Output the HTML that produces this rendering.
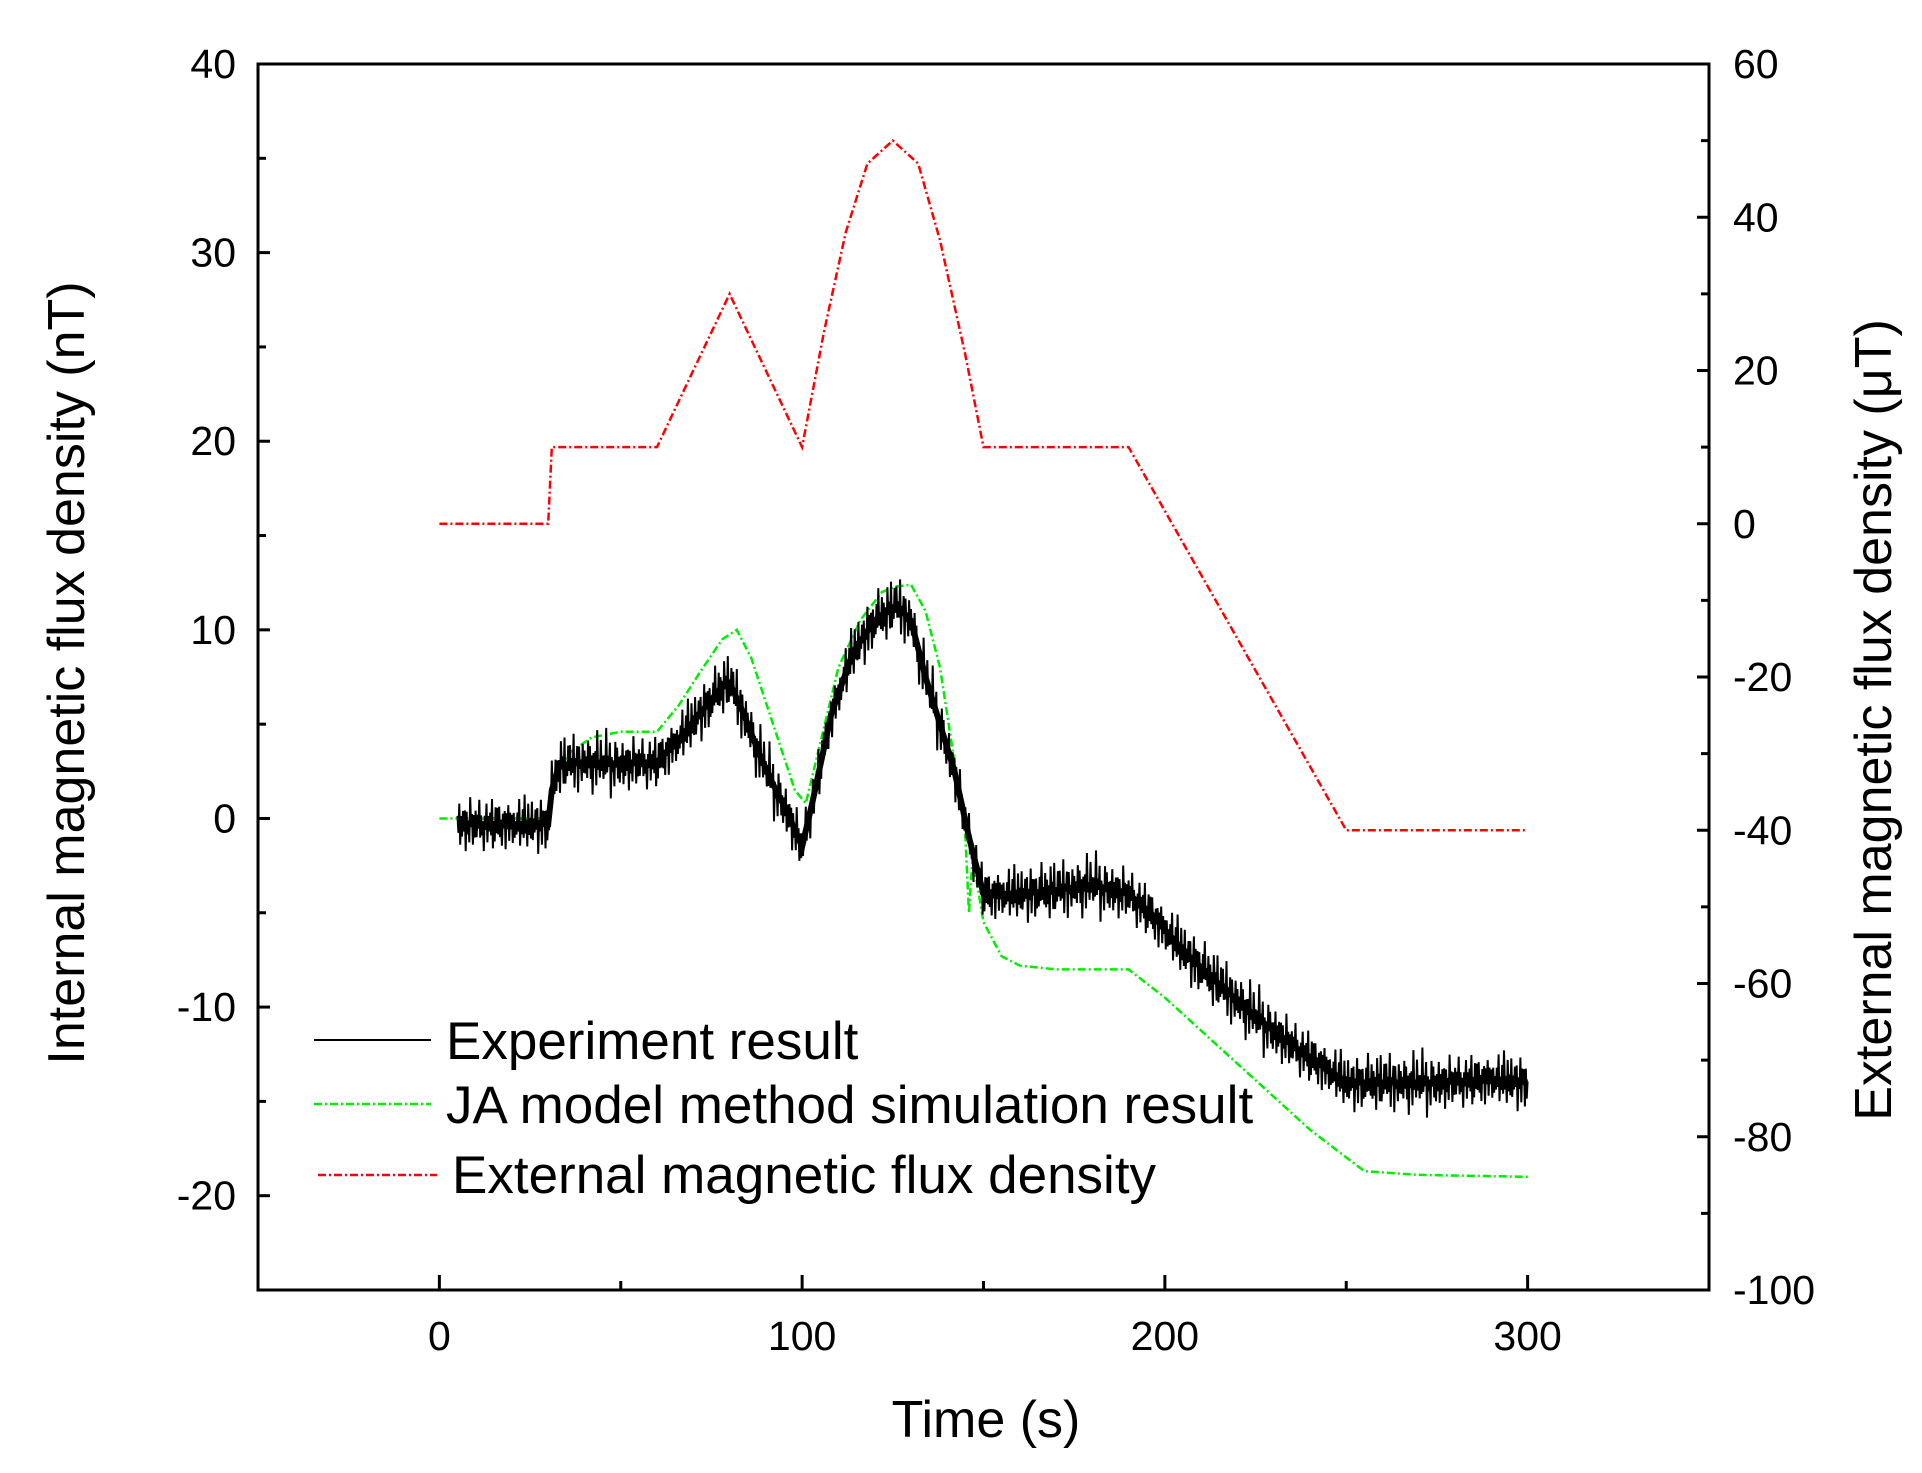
<!DOCTYPE html>
<html><head><meta charset="utf-8"><style>
html,body{margin:0;padding:0;background:#fff;}
svg{display:block;font-family:"Liberation Sans",Arial,sans-serif;}
</style></head><body>
<svg id="chart" width="1922" height="1473" viewBox="0 0 1922 1473" xmlns="http://www.w3.org/2000/svg">
<g id="axes"></g>
<g id="series"></g>
<g id="legend">
  <line x1="314" y1="1040" x2="431" y2="1040" stroke="#000" stroke-width="2"/>
  <text x="446" y="1059" font-size="53">Experiment result</text>
  <line x1="314" y1="1104" x2="431" y2="1104" stroke="#00ee00" stroke-width="2.5" stroke-dasharray="8,3,2,3"/>
  <text x="446" y="1123" font-size="53">JA model method simulation result</text>
  <line x1="318" y1="1175" x2="437" y2="1175" stroke="#ff0000" stroke-width="2.5" stroke-dasharray="8,3,2,3"/>
  <text x="452" y="1193" font-size="53">External magnetic flux density</text>
</g>
<text x="986" y="1437" font-size="52" text-anchor="middle">Time (s)</text>
<text transform="translate(84,673) rotate(-90)" font-size="52" text-anchor="middle">Internal magnetic flux density (nT)</text>
<text transform="translate(1891,720) rotate(-90)" font-size="52" text-anchor="middle">External magnetic flux density (μT)</text>
</svg>
<script>
const xTicks=[0,100,200,300];
const leftTicks=[-20,-10,0,10,20,30,40];
const rightTicks=[-100,-80,-60,-40,-20,0,20,40,60];
const extT=[0,30,31,60,80,100,106,112,118,125,132,138,145,150,190,250,300];
const extV=[0,0,10,10,30,10,25,38,47,50,47,37,22,10,10,-40,-40];
const jaT=[0,30,32,36,42,50,60,66,72,78,82,86,92,98,101,105,110,116,122,126,130,134,138,142,145,146,147,150,155,160,170,190,200,220,240,255,270,300];
const jaV=[0,0,2,3.5,4.3,4.6,4.6,6,7.8,9.5,10,8.5,5,1.5,0.8,4,8,10.5,12,12.3,12.4,11,8,3,-1,-5,-2,-5.5,-7.3,-7.8,-8,-8,-9.5,-13,-16.5,-18.7,-18.9,-19];
const expT=[5,30,31,33,40,50,60,66,72,78,80,84,88,92,96,100,103,108,114,120,126,130,134,138,142,146,150,160,170,180,190,196,205,215,225,235,245,250,260,275,290,300];
const expV=[-0.3,-0.3,1.5,2.8,3,2.9,3,4.2,5.6,7,7.2,5.5,3.5,1.8,0.3,-1.5,1,5.5,8.8,10.5,11.3,10.5,7.5,5,2.5,-1,-4,-4,-3.8,-3.5,-4,-5,-7,-8.8,-10.5,-12,-13.3,-14,-14,-14,-13.8,-14];
const noisePattern=[0.8,-0.6,1.1,-0.9,0.3,-1.2,0.9,-0.4,0.6,-1.0,1.2,-0.7,0.2,-0.8,1.0,-0.3,0.7,-1.1,0.4,-0.5,1.3,-0.9,0.5,-0.2,0.9,-1.3,0.6,-0.6,0.1,-1.0,0.8,-0.4,1.1,-0.8,0.3,-0.7];

const L=258,R=1709,T=64,B=1290;
const xS=v=>L+(v+50)/400*(R-L);
const yL=v=>B-(v+25)/65*(B-T);
const yR=v=>B-(v+100)/160*(B-T);
const NS='http://www.w3.org/2000/svg';
function mk(tag,attrs,parent){const e=document.createElementNS(NS,tag);for(const k in attrs)e.setAttribute(k,attrs[k]);parent.appendChild(e);return e;}
const axes=document.getElementById('axes'),series=document.getElementById('series');
const frame=mk('rect',{x:L,y:T,width:R-L,height:B-T,fill:'none',stroke:'#000','stroke-width':3},axes);


for(let v=-50;v<=350;v+=50){
  const big=v%100===0;
  const t=mk('line',{x1:xS(v),x2:xS(v),y1:B,y2:B-(big?15:9),stroke:'#000','stroke-width':3},axes);
  
  
}
xTicks.forEach(v=>{const t=mk('text',{x:xS(v),y:1350,'font-size':41,'text-anchor':'middle'},axes);t.textContent=v;
  
  });
for(let v=-25;v<=40;v+=5){
  const big=v%10===0;
  const t=mk('line',{x1:L,x2:L+(big?12:8),y1:yL(v),y2:yL(v),stroke:'#000','stroke-width':3},axes);
  
  
}
leftTicks.forEach(v=>{const t=mk('text',{x:236,y:yL(v)+14,'font-size':41,'text-anchor':'end'},axes);t.textContent=v;
  
  });
for(let v=-100;v<=60;v+=10){
  const big=v%20===0;
  const t=mk('line',{x1:R,x2:R-(big?12:8),y1:yR(v),y2:yR(v),stroke:'#000','stroke-width':3},axes);
  
  
}
rightTicks.forEach(v=>{const t=mk('text',{x:1733,y:yR(v)+14,'font-size':41,'text-anchor':'start'},axes);t.textContent=v;
  
  });

function interp(ts,vs,t){for(let i=1;i<ts.length;i++){if(t<=ts[i]){const f=(t-ts[i-1])/(ts[i]-ts[i-1]);return vs[i-1]+f*(vs[i]-vs[i-1]);}}return vs[vs.length-1];}
function path(ts,vs,ys){return ts.map((t,i)=>(i?'L':'M')+xS(t).toFixed(1)+','+ys(vs[i]).toFixed(1)).join('');}

const ext=mk('path',{d:path(extT,extV,yR),fill:'none',stroke:'#ff0000','stroke-width':2.5,'stroke-dasharray':'8,3,2,3'},series);


const ja=mk('path',{d:path(jaT,jaV,yL),fill:'none',stroke:'#00ee00','stroke-width':2.5,'stroke-dasharray':'8,3,2,3'},series);


let d='';let k=0;
for(let t=expT[0];t<=expT[expT.length-1];t+=0.25){
  const v=interp(expT,expV,t)+1.1*noisePattern[k%noisePattern.length]*((k%5)/5+0.5);
  d+=(k?'L':'M')+xS(t).toFixed(1)+','+yL(v).toFixed(1);k++;
}
const exp=mk('path',{d:d,fill:'none',stroke:'#000','stroke-width':2},series);


const expCore=mk('path',{d:path(expT,expV,yL),fill:'none',stroke:'#000','stroke-width':6},series);


</script>
</body></html>
